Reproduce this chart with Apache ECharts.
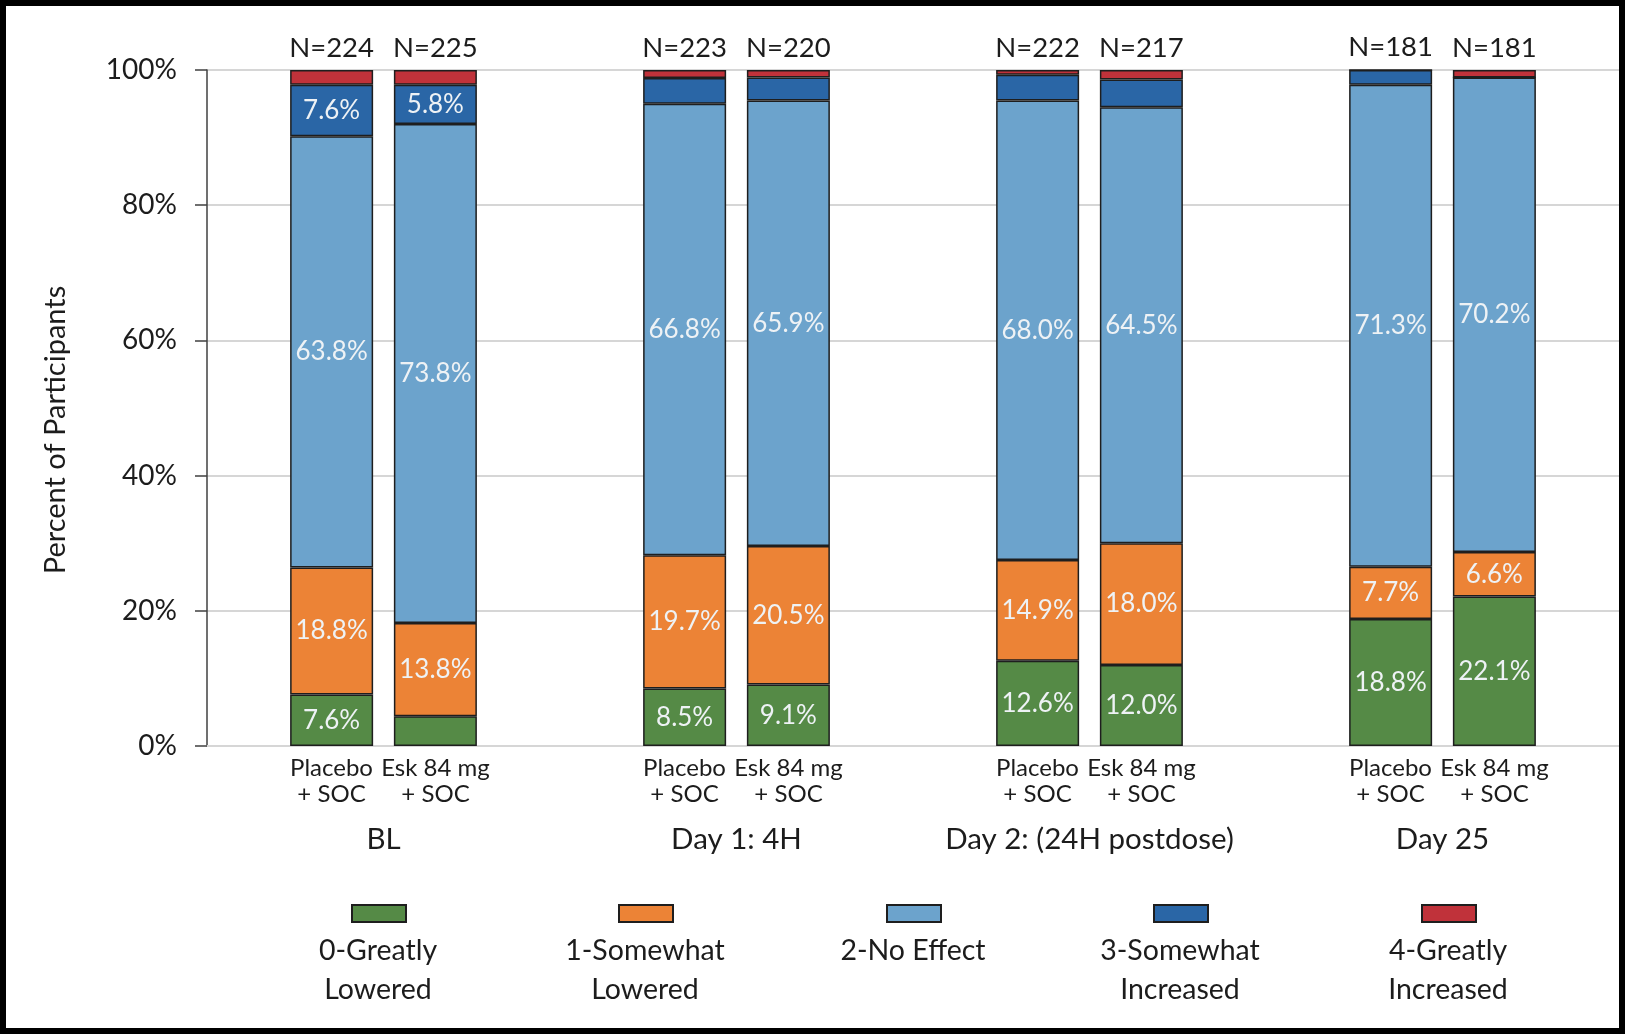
<!DOCTYPE html>
<html>
<head>
<meta charset="utf-8">
<title>Participants by rating</title>
<script src="https://cdn.jsdelivr.net/npm/echarts@6/dist/echarts.min.js"></script>
<style>
  html, body { margin: 0; padding: 0; background: #fff; }
  #chart { width: 1625px; height: 1034px; }
</style>
</head>
<body>
<div id="chart"></div>
<script>
const timepoints = ['BL', 'Day 1: 4H', 'Day 2: (24H postdose)', 'Day 25']
const armLines = [['Placebo', '+ SOC'], ['Esk 84 mg', '+ SOC']]
const levels = ['0-Greatly Lowered', '1-Somewhat Lowered', '2-No Effect', '3-Somewhat Increased', '4-Greatly Increased']
const legendLines = [['0-Greatly', 'Lowered'], ['1-Somewhat', 'Lowered'], ['2-No Effect'], ['3-Somewhat', 'Increased'], ['4-Greatly', 'Increased']]
const yTicks = [0, 20, 40, 60, 80, 100]

const nPlacebo = [224, 223, 222, 181]
const nEsk = [225, 220, 217, 181]

// percent of participants, one value per timepoint
const placeboGreatlyLowered = [7.6, 8.5, 12.6, 18.8]
const placeboSomewhatLowered = [18.8, 19.7, 14.9, 7.7]
const placeboNoEffect = [63.8, 66.8, 68.0, 71.3]
const placeboSomewhatIncreased = [7.6, 3.8, 3.8, 2.2]
const placeboGreatlyIncreased = [2.2, 1.2, 0.7, 0]

const eskGreatlyLowered = [4.4, 9.1, 12.0, 22.1]
const eskSomewhatLowered = [13.8, 20.5, 18.0, 6.6]
const eskNoEffect = [73.8, 65.9, 64.5, 70.2]
const eskSomewhatIncreased = [5.8, 3.4, 4.1, 0]
const eskGreatlyIncreased = [2.2, 1.1, 1.4, 1.1]

const placeboData = [placeboGreatlyLowered, placeboSomewhatLowered, placeboNoEffect, placeboSomewhatIncreased, placeboGreatlyIncreased]
const eskData = [eskGreatlyLowered, eskSomewhatLowered, eskNoEffect, eskSomewhatIncreased, eskGreatlyIncreased]

const colors = ['#558a46', '#ec8336', '#6ca3cc', '#2a66a6', '#c0323a']
const font = 'Lato, "Open Sans", sans-serif'
const textColor = '#1c1c1c'
const legendCenters = [378, 645, 913, 1180, 1448]

const series = []
levels.forEach((name, i) => {
  [[placeboData[i], 'placebo', nPlacebo], [eskData[i], 'esk', nEsk]].forEach(([data, stack, ns]) => {
    const isTop = i === levels.length - 1
    series.push({
      name,
      type: 'bar',
      stack,
      data,
      barWidth: 83,
      barGap: '25%',
      itemStyle: { color: colors[i], borderColor: '#1e1e1e', borderWidth: 1.5 },
      label: isTop ? {
        show: true,
        position: 'top',
        distance: 8,
        formatter: p => 'N=' + ns[p.dataIndex],
        fontSize: 27.5,
        color: textColor,
        fontFamily: font
      } : {
        show: true,
        position: 'inside',
        // small segments carry no label in the original
        formatter: p => p.value >= 5 ? p.value.toFixed(1) + '%' : '',
        fontSize: 26,
        color: '#eef2f5',
        fontFamily: font
      }
    })
  })
})

const chart = echarts.init(document.getElementById('chart'))
chart.setOption({
  animation: false,
  textStyle: { fontFamily: font },
  grid: { left: 207, right: 6, top: 70, bottom: 288 },
  legend: levels.map((name, i) => ({
    data: [name],
    left: legendCenters[i] - 27,
    top: 904,
    padding: 0,
    itemWidth: 54,
    itemHeight: 17,
    icon: 'rect',
    formatter: () => ''
  })),
  xAxis: {
    type: 'category',
    data: timepoints,
    axisLine: { lineStyle: { color: '#d6d6d6', width: 2 } },
    axisTick: { show: false },
    axisLabel: {
      interval: 0,
      margin: 9,
      formatter: v => '{arm|' + armLines[0][0] + '}{arm|' + armLines[1][0] + '}\n' +
        '{arm|' + armLines[0][1] + '}{arm|' + armLines[1][1] + '}\n{grp|' + v + '}',
      rich: {
        arm: { width: 104, align: 'center', fontSize: 24, lineHeight: 26, color: textColor, fontFamily: font },
        grp: { fontSize: 29.5, lineHeight: 64, color: textColor, fontFamily: font }
      }
    }
  },
  yAxis: {
    type: 'value',
    min: yTicks[0],
    max: yTicks[yTicks.length - 1],
    interval: yTicks[1] - yTicks[0],
    name: 'Percent of Participants',
    nameLocation: 'middle',
    nameGap: 137,
    nameTextStyle: { fontSize: 29, color: textColor, padding: [0, 44, 0, 0] },
    axisLine: { show: true, lineStyle: { color: '#404040', width: 1.5 } },
    axisTick: { show: true, length: 12, lineStyle: { color: '#404040', width: 1.5 } },
    axisLabel: { formatter: '{value}%', fontSize: 28, color: textColor, margin: 30, padding: [10, 0, 0, 0] },
    splitLine: { lineStyle: { color: '#d6d6d6', width: 2 } }
  },
  series,
  graphic: [
    {
      type: 'rect',
      silent: true,
      z: 100,
      shape: { x: 3, y: 3, width: 1619, height: 1028 },
      style: { fill: 'transparent', stroke: '#000', lineWidth: 6 }
    },
    ...legendLines.map((lines, i) => ({
      type: 'text',
      x: legendCenters[i],
      y: 931,
      style: {
        text: lines.join('\n'),
        align: 'center',
        verticalAlign: 'top',
        lineHeight: 39,
        fontSize: 28.5,
        fontFamily: font,
        fill: textColor
      }
    }))
  ]
})
</script>
</body>
</html>
